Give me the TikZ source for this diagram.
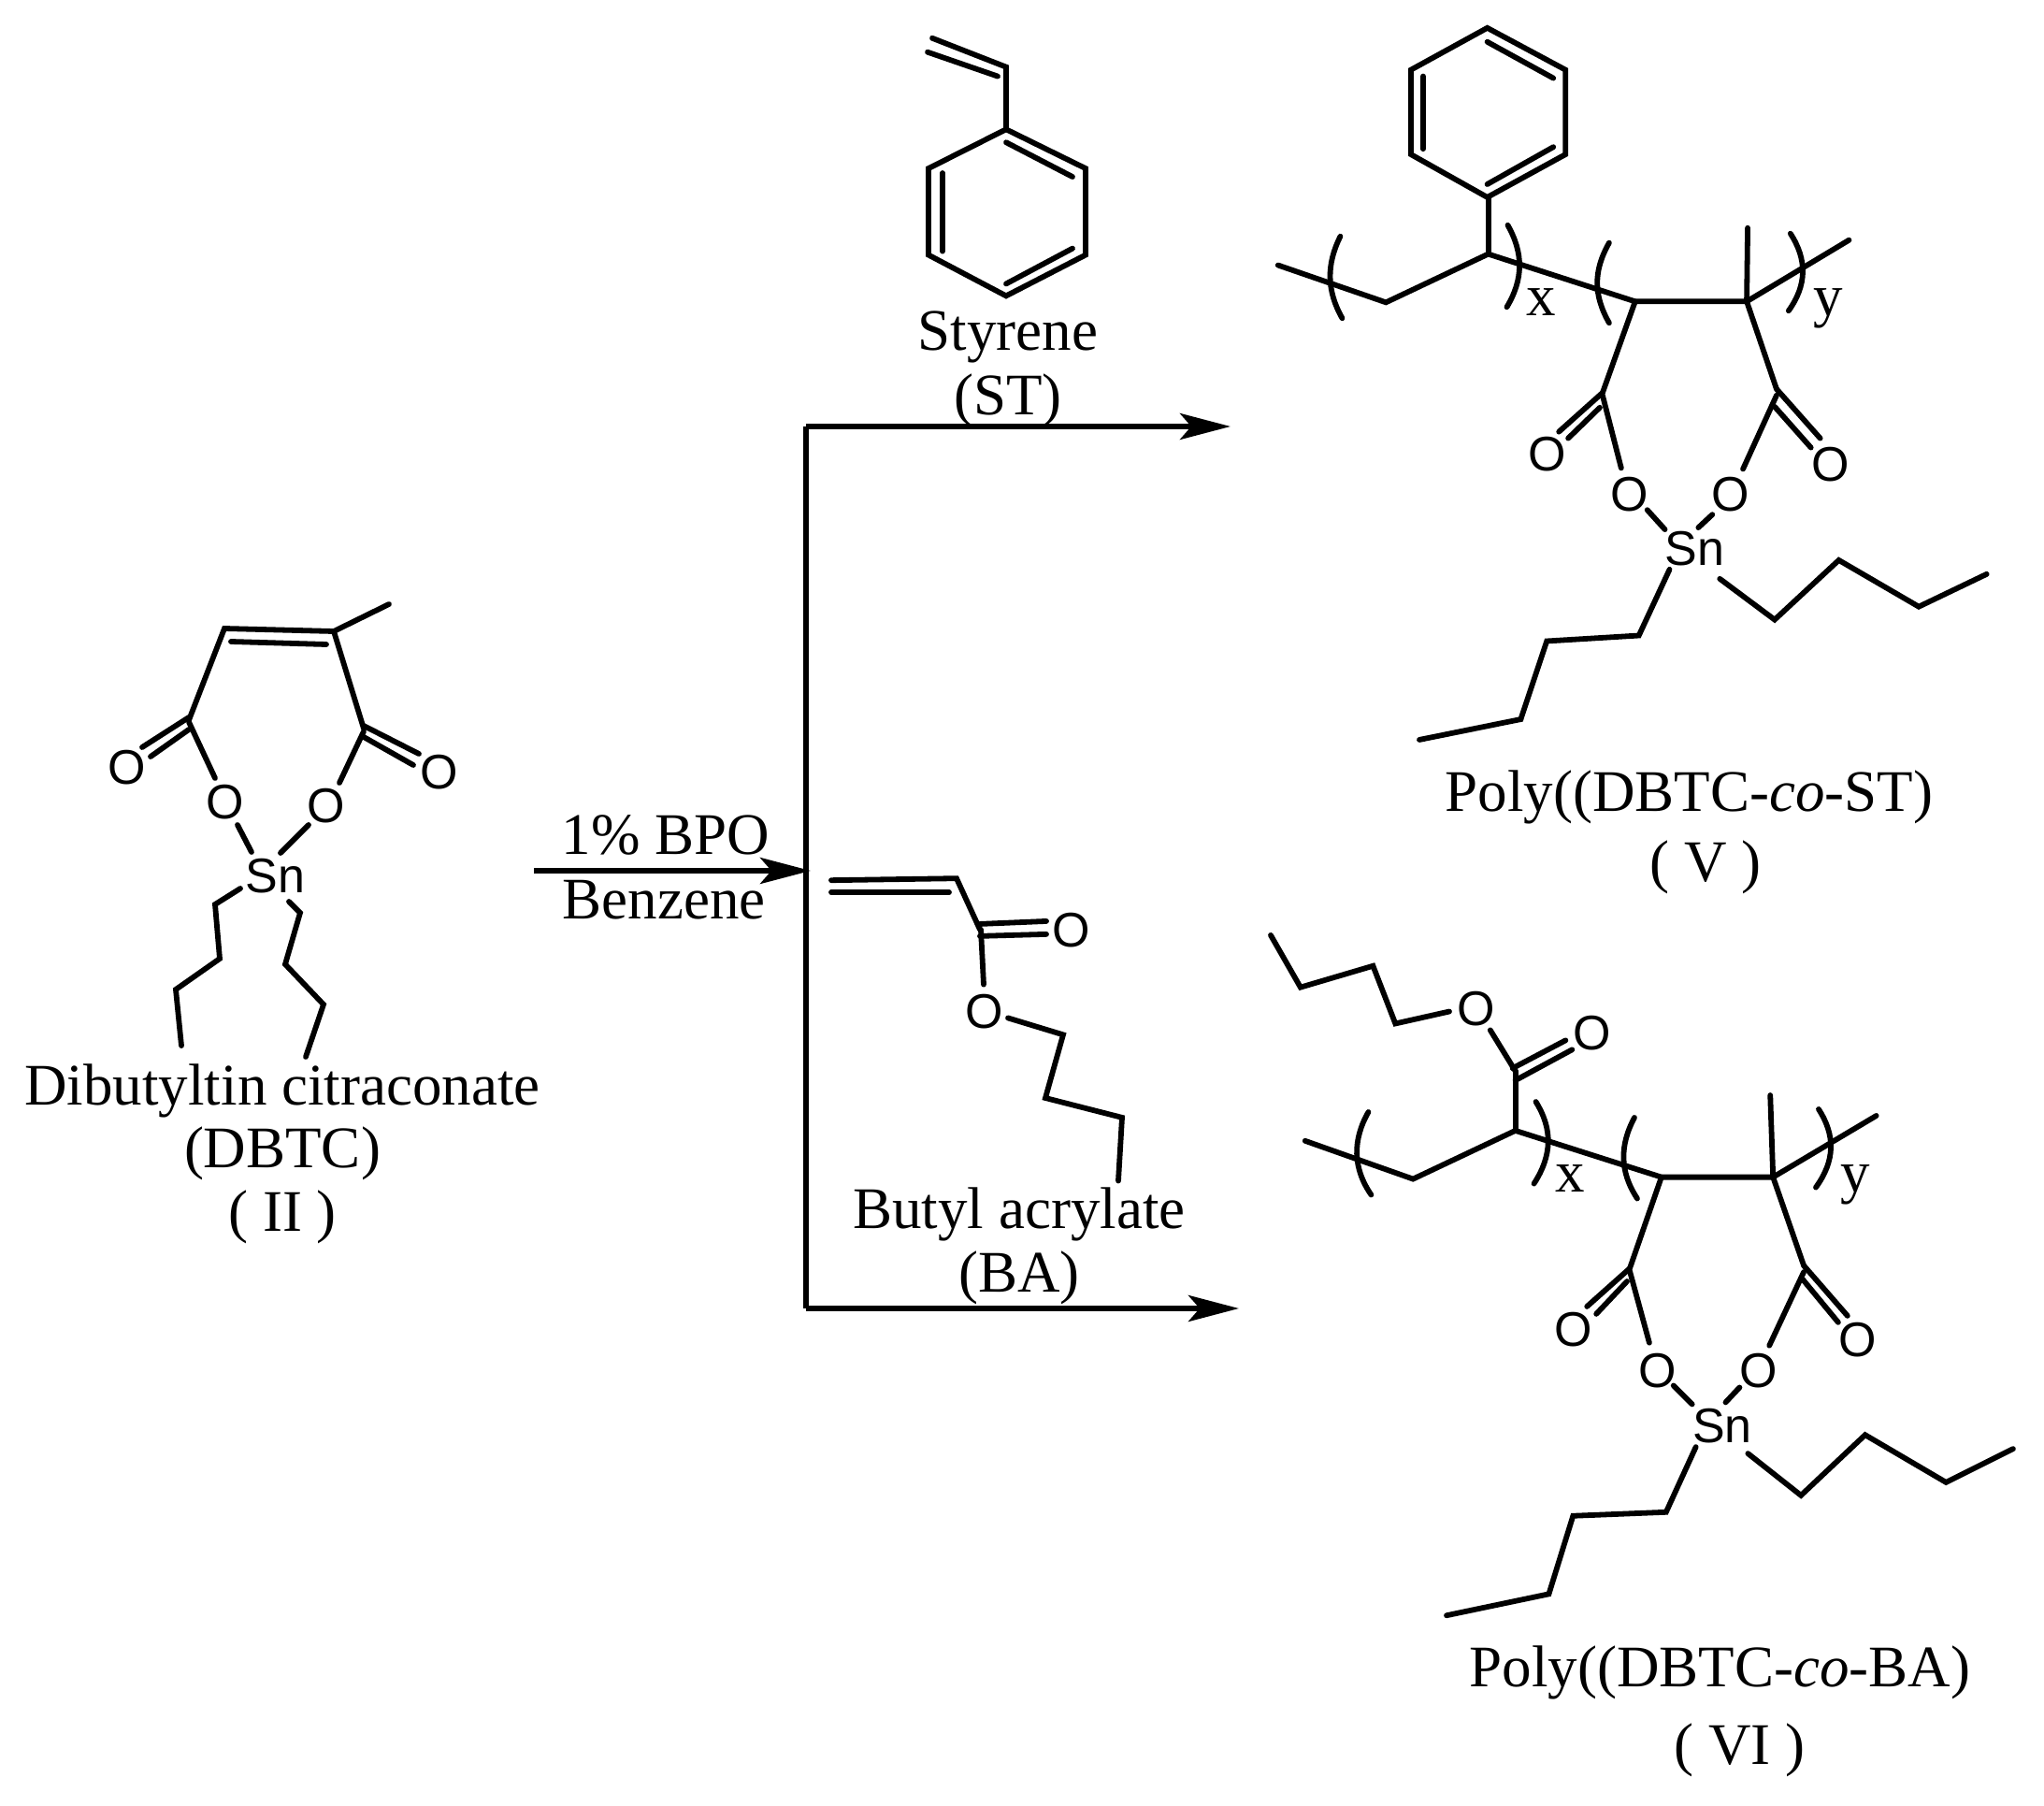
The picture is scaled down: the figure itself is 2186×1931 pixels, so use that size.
\documentclass[tikz,border=0pt]{standalone}
\usepackage{fontspec}
\setmainfont{Liberation Serif}
\newfontfamily\atomfont{Liberation Sans}
\usetikzlibrary{arrows.meta}
\tikzset{
  bond/.style={line width=2.9pt,line cap=round,line join=miter,black},
  bracket/.style={line width=2.9pt,line cap=round,black},
  atom/.style={inner sep=0pt,font=\atomfont\fontsize{26}{26}\selectfont},
  lab/.style={inner sep=0pt,anchor=base,font=\fontsize{31.5}{32}\selectfont},
  rxn/.style={line width=2.8pt,black},
  rxnarrow/.style={rxn,-{Stealth[length=27pt,width=14pt,inset=6pt]}}
}
\begin{document}
\begin{tikzpicture}[x=0.5pt,y=-0.5pt]
\useasboundingbox (0,0) rectangle (2186,1931);
\fill[white] (0,0) rectangle (2186,1931);
% ---------- II
\draw[bond] (416,646) -- (357,675) -- (240,672) -- (202,770);
\draw[bond] (247,686) -- (349,689);
\draw[bond] (357,675) -- (389,779);
\draw[bond] (202,767) -- (152,799);
\draw[bond] (202,780) -- (161,809);
\draw[bond] (389,776) -- (448,806);
\draw[bond] (389,788) -- (442,818);
\draw[bond] (202,772) -- (230,832);
\draw[bond] (389,782) -- (363,837);
\draw[bond] (254,882) -- (269,911);
\draw[bond] (330,882) -- (300,912);
\draw[bond] (257,950) -- (230,967) -- (235,1025) -- (188,1058) -- (194,1118);
\draw[bond] (309,964) -- (321,976) -- (305,1031) -- (346,1074) -- (327,1130);
\node[atom] (o2a) at (136,821) {O};
\node[atom] (o2b) at (470,826) {O};
\node[atom] (o2c) at (241,858) {O};
\node[atom] (o2d) at (349,862) {O};
\node[atom] (sn2) at (294.5,937) {Sn};
\node[lab] (t2a) at (302,1181) {Dibutyltin citraconate};
\node[lab] (t2b) at (302,1248) {(DBTC)};
\node[lab] (t2c) at (302,1316) {( II )};
% ---------- arrows
\coordinate (a0) at (571,931);
\coordinate (a1) at (867,931);
\coordinate (vt) at (862,456);
\coordinate (vb) at (862,1399);
\coordinate (tipt) at (1316,456);
\coordinate (tipb) at (1325,1399);
\draw[rxnarrow] (a0) -- (a1);
\draw[line width=3pt,black,line cap=square] (vt) -- (vb);
\draw[rxnarrow] (vt) -- (tipt);
\draw[rxnarrow] (vb) -- (tipb);
\node[lab] (t3a) at (712,913) {1\% BPO};
\node[lab] (t3b) at (710,982) {Benzene};
% ---------- styrene and butyl acrylate
\begin{scope}[y=-0.49745pt]
\draw[bond] (997,41) -- (1076,72) -- (1076,139);
\draw[bond] (992,56) -- (1067,82);
\draw[bond] (1076,139) -- (1161,181) -- (1161,274) -- (1076,318) -- (993,274) -- (993,181) -- cycle;
\draw[bond] (1076,153) -- (1147,190);
\draw[bond] (1008,186) -- (1008,270);
\draw[bond] (1076,305) -- (1147,267);
\node[lab] (t4a) at (1078,376) {Styrene};
\node[lab] (t4b) at (1078,446) {(ST)};
\draw[bond] (889,946) -- (1023,944) -- (1048,999);
\draw[bond] (889,959) -- (1015,959);
\draw[bond] (1048,993) -- (1119,990);
\draw[bond] (1048,1006) -- (1119,1004);
\draw[bond] (1049,999) -- (1052,1058);
\draw[bond] (1078,1094) -- (1137,1112) -- (1118,1180) -- (1200,1201) -- (1196,1269);
\node[atom] (o5a) at (1146,1000) {O};
\node[atom] (o5b) at (1053,1087) {O};
\node[lab] (t5a) at (1090,1320) {Butyl acrylate};
\node[lab] (t5b) at (1090,1389) {(BA)};
\end{scope}
% ---------- V
\begin{scope}[shift={(7.3,0)},x=0.49727pt,y=-0.49745pt]
\draw[bond] (1592,212) -- (1676,166) -- (1676,75) -- (1592,30) -- (1510,75) -- (1510,166) -- cycle;
\draw[bond] (1592,45) -- (1663,84);
\draw[bond] (1523,82) -- (1523,160);
\draw[bond] (1592,198) -- (1663,158);
\draw[bond] (1593,212) -- (1593,273);
\draw[bond] (1367,285) -- (1483,325) -- (1593,273) -- (1751,324) -- (1871,324) -- (1981,258);
\draw[bond] (1872,245) -- (1871,324);
\draw[bracket] (1434,254) .. controls (1419,284) and (1419,312) .. (1436,342);
\draw[bracket] (1614,242) .. controls (1631,272) and (1631,300) .. (1613,330);
\draw[bracket] (1723,261) .. controls (1706,291) and (1706,317) .. (1723,347);
\draw[bracket] (1918,251) .. controls (1936,279) and (1936,306) .. (1916,334);
\draw[bond] (1751,324) -- (1716,422);
\draw[bond] (1716,422) -- (1669,464);
\draw[bond] (1713,438) -- (1679,471);
\draw[bond] (1716,425) -- (1736,503);
\draw[bond] (1871,324) -- (1903,418);
\draw[bond] (1903,418) -- (1950,471);
\draw[bond] (1901,437) -- (1940,481);
\draw[bond] (1903,425) -- (1867,504);
\draw[bond] (1764,548) -- (1783,569);
\draw[bond] (1834,553) -- (1819,567);
\draw[bond] (1788,612) -- (1755,683) -- (1656,689) -- (1628,773) -- (1519,795);
\draw[bond] (1842,622) -- (1901,666) -- (1970,602) -- (2056,652) -- (2129,617);
\node[atom] (o6a) at (1656,488) {O};
\node[atom] (o6b) at (1961,499) {O};
\node[atom] (o6c) at (1744.5,531) {O};
\node[atom] (o6d) at (1854,531) {O};
\node[atom] (sn6) at (1815,590) {Sn};
\node[lab] (t6x) at (1650,339) {x};
\node[lab] (t6y) at (1959,339) {y};
\node[lab] (t6a) at (1809,872) {Poly((DBTC-\textit{co}-ST)};
\node[lab] (t6b) at (1827,947) {( V )};
\end{scope}
% ---------- VI
\begin{scope}[shift={(6.9,5)},x=0.49745pt,y=-0.49746pt]
\draw[bond] (1359,1000) -- (1391,1056) -- (1469,1033) -- (1493,1095) -- (1551,1082);
\draw[bond] (1595,1102) -- (1622,1146);
\draw[bond] (1619,1143) -- (1676,1113);
\draw[bond] (1622,1156) -- (1683,1123);
\draw[bond] (1622,1146) -- (1622,1210);
\draw[bond] (1396,1221) -- (1512,1262) -- (1622,1210) -- (1779,1260) -- (1899,1260) -- (2010,1194);
\draw[bond] (1896,1172) -- (1899,1260);
\draw[bracket] (1464,1190) .. controls (1447,1220) and (1447,1250) .. (1467,1279);
\draw[bracket] (1644,1179) .. controls (1662,1208) and (1662,1236) .. (1642,1267);
\draw[bracket] (1750,1196) .. controls (1734,1226) and (1734,1254) .. (1753,1283);
\draw[bracket] (1948,1187) .. controls (1966,1215) and (1966,1242) .. (1945,1271);
\draw[bond] (1779,1260) -- (1745,1358);
\draw[bond] (1745,1358) -- (1699,1399);
\draw[bond] (1742,1372) -- (1709,1407);
\draw[bond] (1745,1361) -- (1766,1438);
\draw[bond] (1899,1260) -- (1932,1355);
\draw[bond] (1932,1355) -- (1979,1409);
\draw[bond] (1931,1370) -- (1969,1416);
\draw[bond] (1932,1362) -- (1895,1441);
\draw[bond] (1792,1484) -- (1812,1504);
\draw[bond] (1863,1486) -- (1848,1502);
\draw[bond] (1816,1550) -- (1784,1620) -- (1684,1624) -- (1658,1708) -- (1548,1731);
\draw[bond] (1872,1557) -- (1929,1602) -- (1998,1537) -- (2085,1588) -- (2157,1552);
\node[atom] (o7e) at (1580,1079) {O};
\node[atom] (o7f) at (1704,1105) {O};
\node[atom] (o7a) at (1684,1424) {O};
\node[atom] (o7b) at (1990,1435) {O};
\node[atom] (o7c) at (1775,1468) {O};
\node[atom] (o7d) at (1883,1468) {O};
\node[atom] (sn7) at (1844.5,1527) {Sn};
\node[lab] (t7x) at (1681,1276) {x};
\node[lab] (t7y) at (1987,1276) {y};
\node[lab] (t7a) at (1842,1808) {Poly((DBTC-\textit{co}-BA)};
\node[lab] (t7b) at (1863,1891) {( VI )};
\end{scope}
\end{tikzpicture}
\end{document}
